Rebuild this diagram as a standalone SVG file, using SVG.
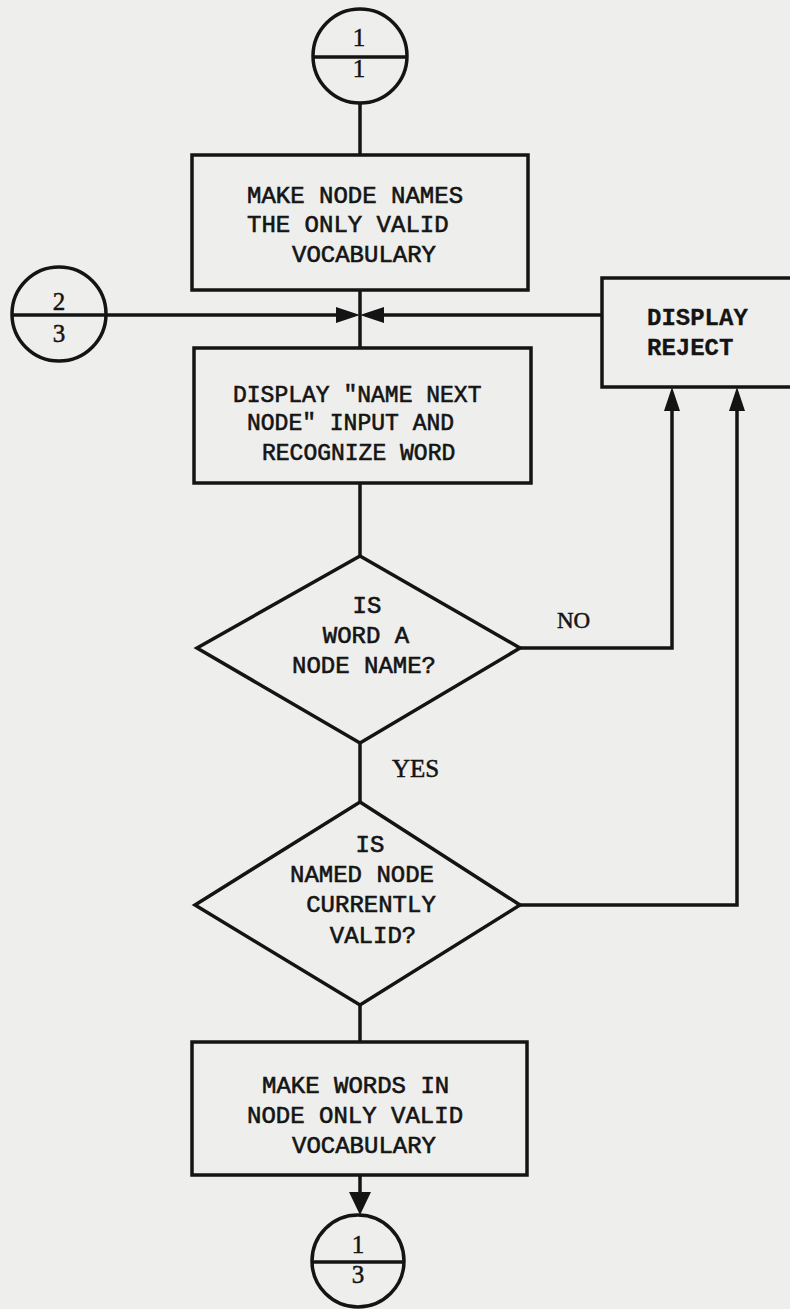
<svg xmlns="http://www.w3.org/2000/svg" width="790" height="1309" viewBox="0 0 790 1309">
<style>
.ln{fill:none;stroke:#141414;stroke-width:3.5;stroke-linejoin:miter}
.shape{fill:none;stroke:#141414;stroke-width:3.5}
.ah{fill:#141414;stroke:none}
.t{font-family:"Liberation Mono","DejaVu Sans Mono",monospace;font-size:24px;fill:#141414;stroke:#141414;stroke-width:0.6}
.t23{font-size:23px}
.c{text-anchor:middle}
.num{font-family:"Liberation Serif","DejaVu Serif",serif;font-size:25px;fill:#141414;stroke:#141414;stroke-width:0.5;text-anchor:middle}
.lbl{font-family:"Liberation Serif","DejaVu Serif",serif;fill:#141414;stroke:#141414;stroke-width:0.5}
.b{font-weight:bold;stroke-width:0.3}
</style>
<rect x="0" y="0" width="790" height="1309" fill="#eeeeec"/>

<g id="connectors">
  <line class="ln" x1="360" y1="103" x2="360" y2="155"/>
  <line class="ln" x1="360" y1="290" x2="360" y2="348"/>
  <line class="ln" x1="106" y1="315" x2="340" y2="315"/>
  <line class="ln" x1="380" y1="315" x2="602" y2="315"/>
  <line class="ln" x1="360" y1="483" x2="360" y2="556"/>
  <line class="ln" x1="360" y1="743" x2="360" y2="802"/>
  <line class="ln" x1="360" y1="1005" x2="360" y2="1042"/>
  <polyline class="ln" points="520,648 672,648 672,405"/>
  <polyline class="ln" points="520,905 737,905 737,405"/>
  <line class="ln" x1="360" y1="1175" x2="360" y2="1198"/>
  <polygon class="ah" points="336,307 360,315 336,323"/>
  <polygon class="ah" points="384,307 360,315 384,323"/>
  <polygon class="ah" points="664,411 672,387 680,411"/>
  <polygon class="ah" points="729,411 737,387 745,411"/>
  <polygon class="ah" points="349,1192 360,1215 371,1192"/>
  <text class="lbl" x="557" y="628" font-size="23">NO</text>
  <text class="lbl" x="392" y="777" font-size="25">YES</text>
</g>

<g id="conn-top">
  <circle class="shape" cx="360" cy="56" r="47"/>
  <line class="ln" x1="313" y1="57" x2="407" y2="57"/>
  <text class="num" x="359" y="46">1</text>
  <text class="num" x="359" y="77">1</text>
</g>

<g id="conn-left">
  <circle class="shape" cx="59" cy="314" r="47"/>
  <line class="ln" x1="12" y1="315" x2="106" y2="315"/>
  <text class="num" x="59" y="310">2</text>
  <text class="num" x="59" y="342">3</text>
</g>

<g id="box-make-node-names">
  <rect class="shape" x="192" y="155" width="336" height="135"/>
  <text class="t" x="247" y="203">MAKE NODE NAMES</text>
  <text class="t" x="247" y="232">THE ONLY VALID</text>
  <text class="t" x="292" y="262">VOCABULARY</text>
</g>

<g id="box-display-name-next">
  <rect class="shape" x="194" y="348" width="337" height="135"/>
  <text class="t t23" x="233" y="402">DISPLAY "NAME NEXT</text>
  <text class="t t23" x="247" y="430">NODE" INPUT AND</text>
  <text class="t t23" x="262" y="460">RECOGNIZE WORD</text>
</g>

<g id="box-display-reject">
  <rect class="shape" x="602" y="278" width="200" height="109"/>
  <text class="t b" x="647" y="325">DISPLAY</text>
  <text class="t b" x="647" y="355">REJECT</text>
</g>

<g id="dec-word-node-name">
  <polygon class="shape" points="360,556 520,648 360,743 197,648"/>
  <text class="t c" x="367" y="613">IS</text>
  <text class="t c" x="366" y="643">WORD A</text>
  <text class="t c" x="364" y="673">NODE NAME?</text>
</g>

<g id="dec-node-valid">
  <polygon class="shape" points="360,802 520,905 360,1005 195,905"/>
  <text class="t c" x="370" y="852">IS</text>
  <text class="t c" x="362" y="882">NAMED NODE</text>
  <text class="t c" x="371" y="912">CURRENTLY</text>
  <text class="t c" x="373" y="943">VALID?</text>
</g>

<g id="box-make-words">
  <rect class="shape" x="192" y="1042" width="335" height="133"/>
  <text class="t" x="262" y="1093">MAKE WORDS IN</text>
  <text class="t" x="247" y="1123">NODE ONLY VALID</text>
  <text class="t" x="292" y="1153">VOCABULARY</text>
</g>

<g id="conn-bottom">
  <circle class="shape" cx="358" cy="1261" r="46"/>
  <line class="ln" x1="312" y1="1262" x2="404" y2="1262"/>
  <text class="num" x="358" y="1253">1</text>
  <text class="num" x="358" y="1283">3</text>
</g>
</svg>
